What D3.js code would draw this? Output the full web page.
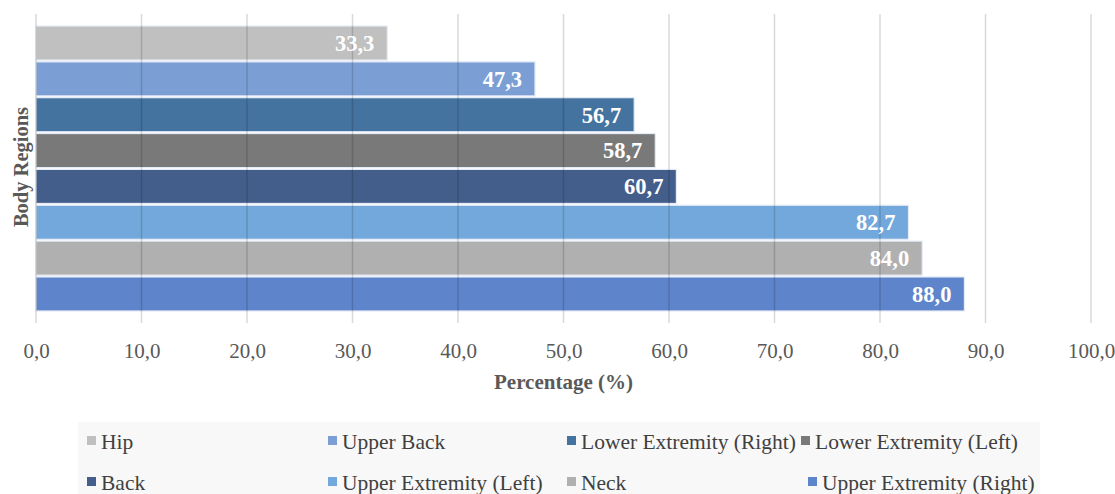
<!DOCTYPE html>
<html>
<head>
<meta charset="utf-8">
<script src="https://cdn.jsdelivr.net/npm/d3@7"></script>
<style>
  html, body { margin: 0; padding: 0; background: #ffffff; }
  svg { display: block; }
</style>
</head>
<body>
<svg id="chart" width="1115" height="494"></svg>
<script>
const categories = ["Hip", "Upper Back", "Lower Extremity (Right)", "Lower Extremity (Left)", "Back", "Upper Extremity (Left)", "Neck", "Upper Extremity (Right)"];
const values = [33.3, 47.3, 56.7, 58.7, 60.7, 82.7, 84.0, 88.0];
const colors = ["#c0c0c0", "#7b9fd5", "#44739f", "#797979", "#445e8b", "#72a8db", "#b0b0b0", "#5e84cb"];
const xTicks = [0, 10, 20, 30, 40, 50, 60, 70, 80, 90, 100];
const xTitle = "Percentage (%)";
const yTitle = "Body Regions";

const fmt = v => v.toFixed(1).replace(".", ",");
const SERIF = '"Liberation Serif", "Times New Roman", Tinos, serif';

const svg = d3.select("#chart");
const x = d3.scaleLinear().domain([0, 100]).range([36, 1091]);
const y = d3.scaleBand().domain(categories).range([26, 311]).paddingInner(0.05).paddingOuter(0);
const gridTop = 14, gridBottom = 323;

// bars
svg.append("g").selectAll("rect").data(categories).join("rect")
  .attr("x", x(0))
  .attr("y", d => y(d))
  .attr("width", (d, i) => x(values[i]) - x(0))
  .attr("height", y.bandwidth())
  .attr("fill", (d, i) => colors[i])
  .attr("stroke", "#e6ecf6")
  .attr("stroke-width", 1.2);

// gridlines over bars
svg.append("g").selectAll("line").data(xTicks).join("line")
  .attr("x1", d => x(d)).attr("x2", d => x(d))
  .attr("y1", gridTop).attr("y2", gridBottom)
  .attr("stroke", "rgba(0,0,0,0.15)")
  .attr("stroke-width", 1.5);

// x axis tick labels
const xAxis = d3.axisBottom(x).tickValues(xTicks).tickFormat(fmt).tickSize(0).tickPadding(0);
const gx = svg.append("g").attr("transform", `translate(0, 343)`).call(xAxis);
gx.select(".domain").remove();
gx.selectAll("text")
  .style("font-family", SERIF)
  .style("font-size", "21px")
  .attr("fill", "#595959")
  .attr("dy", "0.71em");

// value labels
svg.append("g").selectAll("text").data(categories).join("text")
  .attr("x", (d, i) => x(values[i]) - 13)
  .attr("y", d => y(d) + y.bandwidth() / 2)
  .attr("dy", "0.35em")
  .attr("text-anchor", "end")
  .style("font-family", SERIF)
  .style("font-weight", "bold")
  .style("font-size", "22.5px")
  .attr("fill", "#ffffff")
  .text((d, i) => fmt(values[i]));

// axis titles
svg.append("text")
  .attr("x", (x(0) + x(100)) / 2)
  .attr("y", 389)
  .attr("text-anchor", "middle")
  .style("font-family", SERIF)
  .style("font-weight", "bold")
  .style("font-size", "21px")
  .attr("fill", "#595959")
  .text(xTitle);

svg.append("text")
  .attr("transform", "translate(28, 167) rotate(-90)")
  .attr("text-anchor", "middle")
  .style("font-family", SERIF)
  .style("font-weight", "bold")
  .style("font-size", "20.5px")
  .attr("fill", "#595959")
  .text(yTitle);

// legend
svg.append("rect")
  .attr("x", 78).attr("y", 422)
  .attr("width", 962).attr("height", 72)
  .attr("fill", "#f8f8f8");

const legendPos = [
  [87, 441], [328, 441], [567, 441], [801, 441],
  [87, 482], [328, 482], [567, 482], [808, 482]
];
const lg = svg.append("g").selectAll("g").data(categories).join("g")
  .attr("transform", (d, i) => `translate(${legendPos[i][0]}, ${legendPos[i][1]})`);
lg.append("rect")
  .attr("x", 0).attr("y", -5)
  .attr("width", 9).attr("height", 9)
  .attr("fill", (d, i) => colors[i]);
lg.append("text")
  .attr("x", 14)
  .attr("dy", "0.35em")
  .style("font-family", SERIF)
  .style("font-size", "21.5px")
  .attr("fill", "#404040")
  .text(d => d);
</script>
</body>
</html>
